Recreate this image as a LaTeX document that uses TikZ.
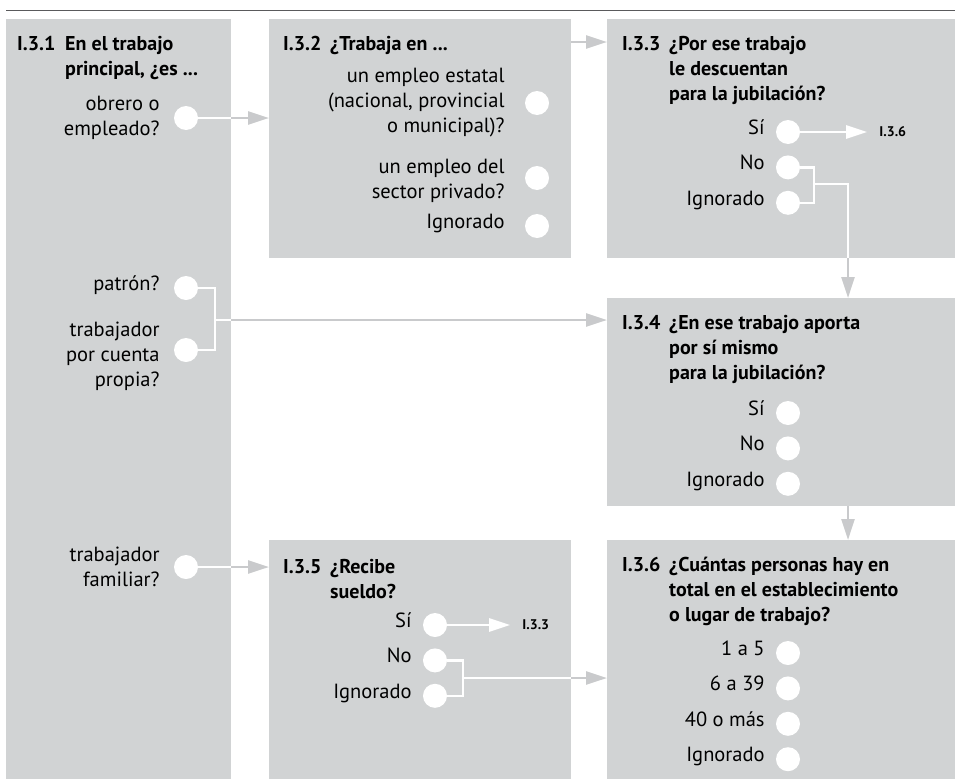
\documentclass[tikz,border=0pt]{standalone}
\usepackage{fontspec}
\setmainfont{PT Sans}
\usetikzlibrary{positioning,arrows.meta}

\definecolor{boxgray}{RGB}{209,211,212}
\definecolor{linegray}{RGB}{201,202,204}
\definecolor{rulegray}{RGB}{90,90,92}

\tikzset{
  qbox/.style={fill=boxgray, anchor=north west, inner sep=0pt},
  dot/.style={circle, fill=white, minimum size=24pt, inner sep=0pt},
  opt/.style={font=\fontsize{20.5}{25}\selectfont, align=right, inner sep=0pt},
  qnum/.style={font=\fontsize{20}{25}\selectfont\bfseries, inner sep=0pt, anchor=base west},
  qtext/.style={font=\fontsize{20}{25}\selectfont\bfseries, align=left, inner sep=0pt, anchor=base west},
  golabel/.style={font=\fontsize{14}{16}\selectfont\bfseries, inner xsep=12pt, inner ysep=0pt},
  inlink/.style={white, line width=2.5pt},
  outlink/.style={linegray, line width=2.5pt},
  tip/.style={-{Triangle[length=21pt,width=13pt]}},
}

\begin{document}
\begin{tikzpicture}[x=1pt,y=-1pt]
  \useasboundingbox (0,0) rectangle (955,779);
  \draw[rulegray, line width=1.5pt] (6,10.5) -- (955,10.5);

  % boxes
  \node[qbox, minimum width=225pt, minimum height=760pt] (b1) at (6,19) {};
  \node[qbox, minimum width=302pt, minimum height=239pt] (b2) at (269,19) {};
  \node[qbox, minimum width=348pt, minimum height=239pt] (b3) at (607,19) {};
  \node[qbox, minimum width=348pt, minimum height=208pt] (b4) at (607,298) {};
  \node[qbox, minimum width=302pt, minimum height=239pt] (b5) at (269,540) {};
  \node[qbox, minimum width=348pt, minimum height=239pt] (b6) at (607,540) {};

  % titles (text nodes sit on their last baseline)
  \node[qnum] (n1) at (17,50) {I.3.1};
  \node[qtext] (t1) at (65,75) {En el trabajo\\principal, ¿es ...};
  \node[qnum] (n2) at (283,50) {I.3.2};
  \node[qtext] (t2) at (330,50) {¿Trabaja en ...};
  \node[qnum] (n3) at (622,50) {I.3.3};
  \node[qtext] (t3) at (669,100) {¿Por ese trabajo\\le descuentan\\para la jubilación?};
  \node[qnum] (n4) at (622,329) {I.3.4};
  \node[qtext] (t4) at (669,379) {¿En ese trabajo aporta\\por sí mismo\\para la jubilación?};
  \node[qnum] (n5) at (283,573) {I.3.5};
  \node[qtext] (t5) at (330,598) {¿Recibe\\sueldo?};
  \node[qnum] (n6) at (622,571) {I.3.6};
  \node[qtext] (t6) at (669,621) {¿Cuántas personas hay en\\total en el establecimiento\\o lugar de trabajo?};

  % I.3.1
  \node[dot] (d11) at (186,118) {};
  \node[dot] (d12) at (186,288) {};
  \node[dot] (d13) at (186,350) {};
  \node[dot] (d14) at (186,567) {};
  \node[opt, left=14pt of d11] (o11) {obrero o\\empleado?};
  \node[opt, left=14pt of d12, anchor=mid east] (o12) {patrón?};
  \node[opt, left=14pt of d13, yshift=-6pt] (o13) {trabajador\\por cuenta\\propia?};
  \node[opt, left=14pt of d14] (o14) {trabajador\\familiar?};

  % I.3.2
  \node[dot] (d21) at (537,103) {};
  \node[dot] (d22) at (537,178) {};
  \node[dot] (d23) at (537,226) {};
  \node[opt, left=20pt of d21] (o21) {un empleo estatal\\(nacional, provincial\\o municipal)?};
  \node[opt, left=20pt of d22, yshift=-3pt] (o22) {un empleo del\\sector privado?};
  \node[opt, left=20pt of d23, anchor=mid east] (o23) {Ignorado};

  % I.3.3
  \node[dot] (d31) at (788,132) {};
  \node[dot, below=11pt of d31] (d32) {};
  \node[dot, below=11pt of d32] (d33) {};
  \node[opt, left=11pt of d31, anchor=mid east] (o31) {Sí};
  \node[opt, left=11pt of d32, anchor=mid east] (o32) {No};
  \node[opt, left=11pt of d33, anchor=mid east] (o33) {Ignorado};
  \node[golabel, right=67pt of d31] (l31) {I.3.6};

  % I.3.4
  \node[dot] (d41) at (788,413) {};
  \node[dot, below=11pt of d41] (d42) {};
  \node[dot, below=11pt of d42] (d43) {};
  \node[opt, left=11pt of d41, anchor=mid east] (o41) {Sí};
  \node[opt, left=11pt of d42, anchor=mid east] (o42) {No};
  \node[opt, left=11pt of d43, anchor=mid east] (o43) {Ignorado};

  % I.3.5
  \node[dot] (d51) at (435,625) {};
  \node[dot, below=11pt of d51] (d52) {};
  \node[dot, below=11pt of d52] (d53) {};
  \node[opt, left=11pt of d51, anchor=mid east] (o51) {Sí};
  \node[opt, left=11pt of d52, anchor=mid east] (o52) {No};
  \node[opt, left=11pt of d53, anchor=mid east] (o53) {Ignorado};
  \node[golabel, right=63pt of d51] (l51) {I.3.3};

  % I.3.6
  \node[dot] (d61) at (788,653) {};
  \node[dot, below=11pt of d61] (d62) {};
  \node[dot, below=11pt of d62] (d63) {};
  \node[dot, below=11pt of d63] (d64) {};
  \node[opt, left=11pt of d61, anchor=mid east] (o61) {1 a 5};
  \node[opt, left=11pt of d62, anchor=mid east] (o62) {6 a 39};
  \node[opt, left=11pt of d63, anchor=mid east] (o63) {40 o más};
  \node[opt, left=11pt of d64, anchor=mid east] (o64) {Ignorado};

  % connectors
  \coordinate (j1) at (215,320);
  \coordinate (j3) at (814,184);
  \coordinate (k3) at (848,184);
  \coordinate (j5) at (463,678);

  \draw[inlink] (d11.east) -- (d11 -| b1.east);
  \draw[outlink, tip] (d11 -| b1.east) -- (d11 -| b2.west);
  \draw[outlink, tip] ([yshift=-23pt]b2.north east) -- ([yshift=-23pt]b3.north west);

  \draw[inlink] (d12.east) -| (j1) |- (d13.east);
  \draw[inlink] (j1) -- (j1 -| b1.east);
  \draw[outlink, tip] (j1 -| b1.east) -- (j1 -| b4.west);

  \draw[inlink] (d14.east) -- (d14 -| b1.east);
  \draw[outlink, tip] (d14 -| b1.east) -- (d14 -| b5.west);

  \draw[inlink, tip] (d31.east) -- (l31.west);
  \draw[inlink] (d32.east) -| (j3) |- (d33.east);
  \draw[inlink] (j3) -- (k3) -- (k3 |- b3.south);
  \draw[outlink, tip] (k3 |- b3.south) -- (k3 |- b4.north);
  \draw[outlink, tip] (k3 |- b4.south) -- (k3 |- b6.north);

  \draw[inlink, tip] (d51.east) -- (l51.west);
  \draw[inlink] (d52.east) -| (j5) |- (d53.east);
  \draw[inlink] (j5) -- (j5 -| b5.east);
  \draw[outlink, tip] (j5 -| b5.east) -- (j5 -| b6.west);
\end{tikzpicture}
\end{document}
